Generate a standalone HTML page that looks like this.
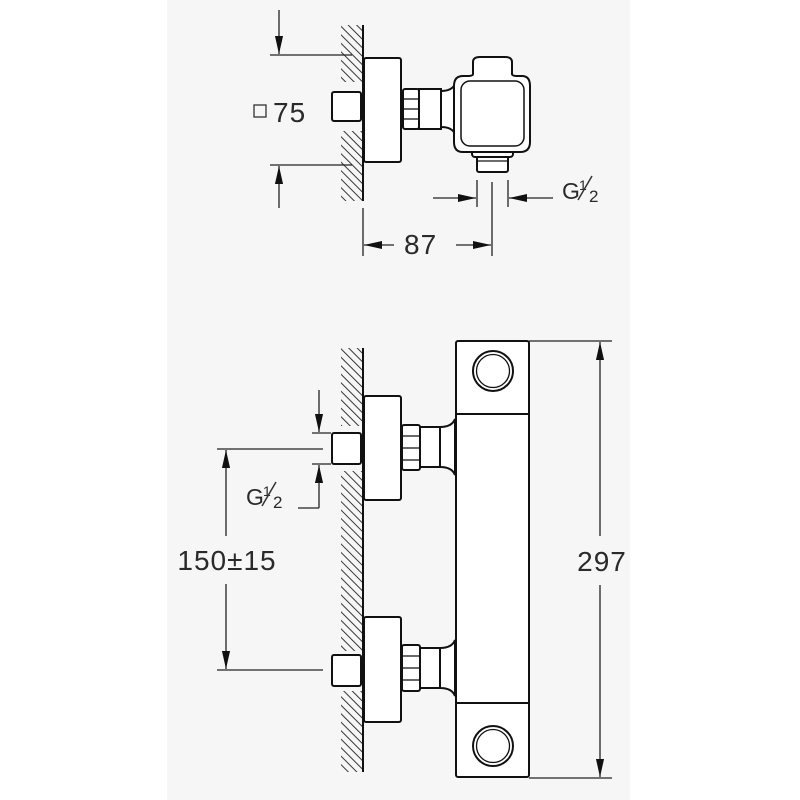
<!DOCTYPE html>
<html><head><meta charset="utf-8"><style>
html,body{margin:0;padding:0;background:#fff;}
svg{display:block;}
text{font-family:"Liberation Sans",sans-serif;fill:#2a2a2a;}
</style></head><body>
<svg width="800" height="800" viewBox="0 0 800 800" xmlns="http://www.w3.org/2000/svg">
<defs>
<pattern id="h" width="6" height="6" patternUnits="userSpaceOnUse" patternTransform="rotate(-45)">
<line x1="0" y1="0" x2="0" y2="6" stroke="#222" stroke-width="1.8"/>
</pattern>
<marker id="b" viewBox="0 0 20 10" refX="20" refY="5" markerWidth="20" markerHeight="9" markerUnits="userSpaceOnUse" orient="auto-start-reverse">
<path d="M0,0.5 L20,5 L0,9.5 z" fill="#111"/>
</marker>
</defs>
<rect x="0" y="0" width="800" height="800" fill="#fff"/>
<rect x="167" y="0" width="463" height="800" fill="#f6f6f6"/>

<g stroke="#222" fill="none" stroke-width="1.3">
<line x1="279" y1="10" x2="279" y2="54" marker-end="url(#b)"/>
<line x1="270" y1="55" x2="352" y2="55"/>
<line x1="270" y1="165" x2="352" y2="165"/>
<line x1="279" y1="208" x2="279" y2="166" marker-end="url(#b)"/>
<line x1="433" y1="198" x2="476" y2="198" marker-end="url(#b)"/>
<line x1="553" y1="198" x2="509" y2="198" marker-end="url(#b)"/>
<line x1="477" y1="180" x2="477" y2="207"/>
<line x1="508" y1="180" x2="508" y2="207"/>
<line x1="363" y1="208" x2="363" y2="256"/>
<line x1="492" y1="182" x2="492" y2="256"/>
<line x1="394" y1="245" x2="364" y2="245" marker-end="url(#b)"/>
<line x1="456" y1="245" x2="491" y2="245" marker-end="url(#b)"/>
</g>
<rect x="341" y="25" width="22" height="57" fill="url(#h)"/>
<rect x="341" y="131" width="22" height="70" fill="url(#h)"/>
<g stroke="#111" fill="#fff" stroke-width="2">
<line x1="363" y1="25" x2="363" y2="201"/>
<rect x="332" y="92" width="29" height="29" rx="2"/>
<rect x="364" y="58" width="37" height="104" rx="2"/>
<rect x="419" y="89" width="22" height="40"/>
<rect x="403" y="89" width="16" height="40" rx="2"/>
<path d="M441 91 Q452 91 455 84 L455 134 Q452 127 441 127 z"/>
<rect x="477" y="155" width="31" height="17" rx="2"/>
<rect x="472" y="147" width="41" height="10" rx="3"/>
<path d="M473 74 L473 62 Q473 57 480 57 L505 57 Q512 57 512 62 L512 74 Q512 76 518 76 L522 76 Q530 76 530 86 L530 142 Q530 152 520 152 L463 152 Q454 152 454 142 L454 86 Q454 76 463 76 L467 76 Q473 76 473 74 z"/>
<rect x="461" y="81" width="63" height="65" rx="9" stroke-width="1.5"/>
</g>
<g stroke="#111" stroke-width="1.3">
<line x1="403" y1="99" x2="419" y2="99"/><line x1="403" y1="109" x2="419" y2="109"/><line x1="403" y1="119" x2="419" y2="119"/>
<line x1="477" y1="161" x2="508" y2="161"/>
</g>
<rect x="254" y="105" width="12" height="12" fill="none" stroke="#333" stroke-width="1.3"/>
<text x="273" y="122" font-size="28" letter-spacing="1">75</text>
<text x="562" y="199" font-size="23">G</text>
<text x="579" y="190" font-size="14">1</text>
<line x1="578" y1="200" x2="592" y2="176" stroke="#333" stroke-width="1.5"/>
<text x="589" y="202" font-size="17">2</text>
<text x="404" y="254" font-size="28" letter-spacing="1">87</text>

<g stroke="#222" fill="none" stroke-width="1.3">
<line x1="529" y1="341" x2="612" y2="341"/>
<line x1="529" y1="778" x2="612" y2="778"/>
<line x1="600" y1="536" x2="600" y2="342" marker-end="url(#b)"/>
<line x1="600" y1="585" x2="600" y2="777" marker-end="url(#b)"/>
<line x1="217" y1="449" x2="323" y2="449"/>
<line x1="217" y1="670" x2="323" y2="670"/>
<line x1="226" y1="536" x2="226" y2="450" marker-end="url(#b)"/>
<line x1="226" y1="584" x2="226" y2="669" marker-end="url(#b)"/>
<line x1="312" y1="433" x2="331" y2="433"/>
<line x1="312" y1="464" x2="331" y2="464"/>
<line x1="319" y1="390" x2="319" y2="432" marker-end="url(#b)"/>
<line x1="319" y1="508" x2="319" y2="465" marker-end="url(#b)"/>
<line x1="298" y1="508" x2="319" y2="508"/>
</g>
<rect x="341" y="348" width="22" height="78" fill="url(#h)"/>
<rect x="341" y="471" width="22" height="180" fill="url(#h)"/>
<rect x="341" y="691" width="22" height="81" fill="url(#h)"/>
<g stroke="#111" fill="#fff" stroke-width="2">
<line x1="363" y1="348" x2="363" y2="772"/>
<rect x="456" y="341" width="73" height="436" rx="2"/>
<line x1="456" y1="414" x2="529" y2="414"/>
<line x1="456" y1="703" x2="529" y2="703"/>
<circle cx="493" cy="371" r="20"/><circle cx="493" cy="371" r="16.5" stroke-width="1.3"/>
<circle cx="493" cy="746" r="20"/><circle cx="493" cy="746" r="16.5" stroke-width="1.3"/>
<rect x="332" y="433" width="29" height="31" rx="2"/>
<rect x="364" y="396" width="37" height="104" rx="2"/>
<rect x="420" y="427" width="20" height="40"/>
<rect x="402" y="425" width="18" height="45" rx="2"/>
<path d="M440 427 Q452 427 455 419 L455 475 Q452 467 440 467 z"/>
<rect x="332" y="655" width="29" height="31" rx="2"/>
<rect x="364" y="617" width="37" height="105" rx="2"/>
<rect x="420" y="648" width="20" height="40"/>
<rect x="402" y="645" width="18" height="46" rx="2"/>
<path d="M440 648 Q452 648 455 640 L455 696 Q452 688 440 688 z"/>
</g>
<g stroke="#111" stroke-width="1.3">
<line x1="402" y1="436" x2="420" y2="436"/><line x1="402" y1="448" x2="420" y2="448"/><line x1="402" y1="460" x2="420" y2="460"/>
<line x1="402" y1="656" x2="420" y2="656"/><line x1="402" y1="668" x2="420" y2="668"/><line x1="402" y1="680" x2="420" y2="680"/>
</g>
<text x="246" y="505" font-size="23">G</text>
<text x="263" y="496" font-size="14">1</text>
<line x1="262" y1="506" x2="276" y2="482" stroke="#333" stroke-width="1.5"/>
<text x="273" y="508" font-size="17">2</text>
<text x="227" y="570" font-size="28" text-anchor="middle" letter-spacing="1">150±15</text>
<text x="602" y="571" font-size="28" text-anchor="middle" letter-spacing="1">297</text>
</svg>
</body></html>
